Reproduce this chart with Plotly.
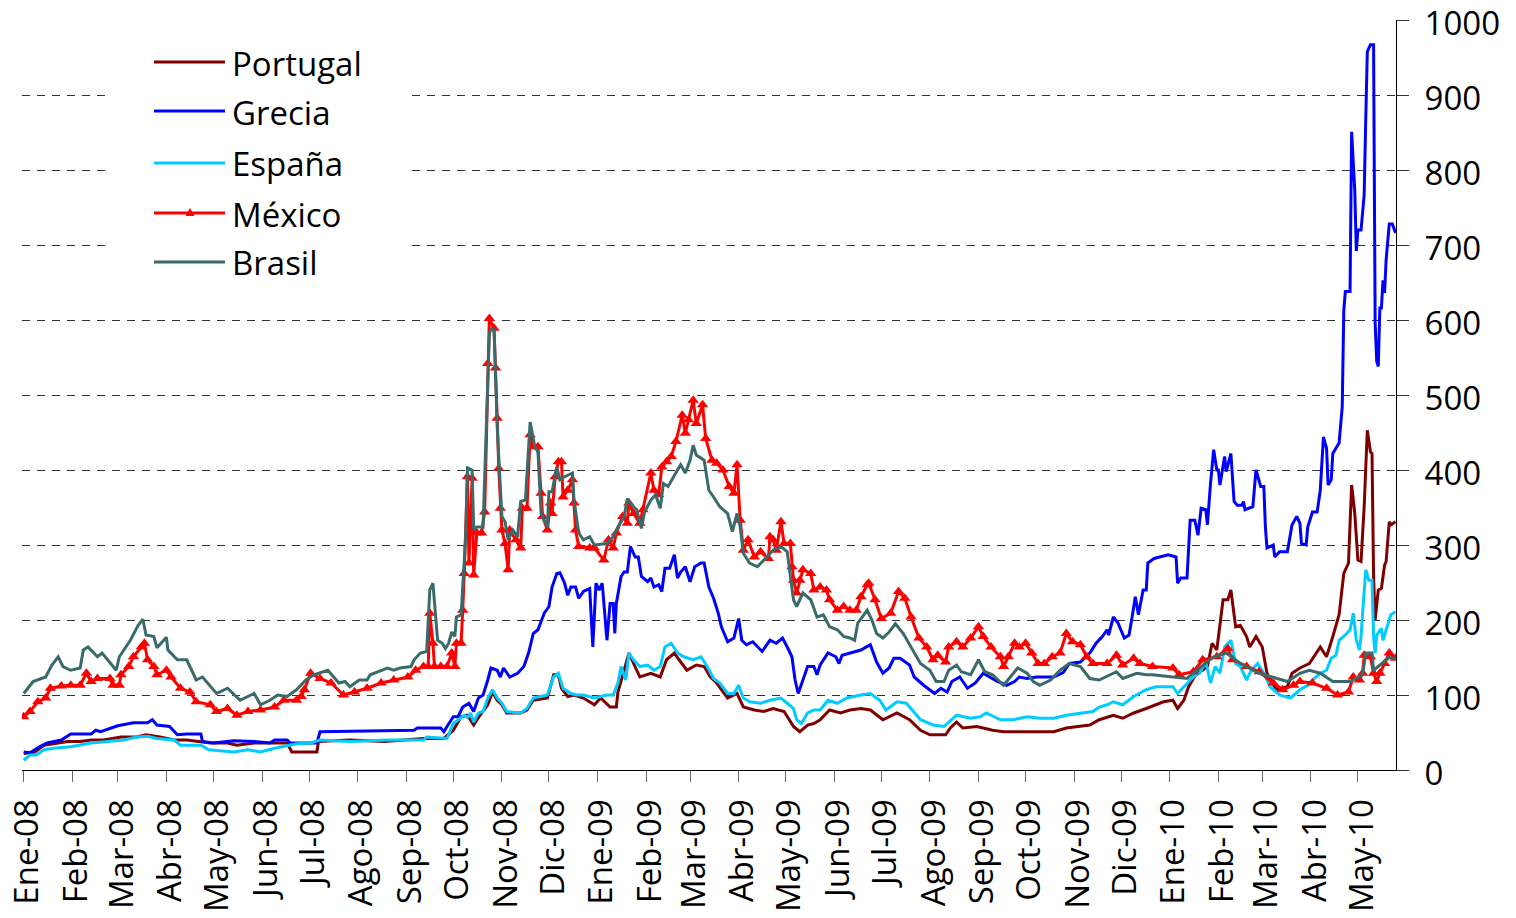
import pandas as pd
import plotly.graph_objects as go

# ---------------- data (days since 2008-01-01, spread in basis points) ----------------
portugal_days = [0, 7, 13, 28, 36, 43, 51, 62, 72, 78, 87, 96, 104, 113, 119, 130, 136, 147, 157, 168, 171, 181, 187, 188,
                 208, 230, 255, 268, 274, 279, 283, 287, 291, 296, 299, 302, 305, 308, 317, 321, 325, 334, 338, 341, 343,
                 347, 351, 357, 364, 368, 374, 378, 379, 383, 386, 389, 393, 400, 406, 410, 415, 418, 423, 429, 434, 438,
                 442, 449, 455, 459, 466, 472, 478, 485, 491, 495, 500, 504, 508, 514, 521, 527, 534, 540, 548, 557, 565,
                 572, 578, 588, 591, 595, 599, 608, 618, 625, 644, 657, 665, 680, 686, 695, 701, 708, 716, 727, 733, 736,
                 740, 743, 748, 752, 755, 758, 761, 765, 768, 770, 773, 776, 780, 782, 786, 790, 793, 799, 806, 809, 814,
                 820, 827, 831, 835, 837, 839, 842, 845, 847, 849, 851, 853, 855, 857, 859, 860, 861, 862, 864, 866, 868,
                 869, 871, 872, 875]
portugal_vals = [22, 24, 33, 38, 38, 40, 40, 44, 44, 47, 44, 40, 40, 38, 36, 36, 33, 36, 36, 36, 24, 24, 24, 38,
                 40, 38, 42, 42, 53, 71, 73, 60, 73, 87, 104, 93, 87, 76, 76, 80, 93, 96, 127, 127, 109,
                 98, 100, 96, 87, 96, 84, 84, 104, 133, 156, 142, 124, 129, 124, 147, 156, 147, 133, 140, 138, 124,
                 116, 96, 102, 84, 80, 78, 82, 78, 58, 51, 60, 62, 67, 80, 76, 80, 82, 80, 67, 76, 67,
                 53, 47, 47, 56, 64, 56, 58, 53, 51, 51, 51, 56, 60, 67, 73, 69, 76, 82, 91, 93, 82,
                 93, 111, 129, 133, 138, 169, 160, 227, 227, 240, 191, 193, 178, 164, 178, 164, 129, 107, 111, 129, 136,
                 142, 164, 151, 178, 193, 207, 262, 276, 380, 342, 280, 278, 351, 453, 424, 422, 258, 200, 240, 242, 273,
                 278, 331, 327, 331]

grecia_days = [0, 4, 10, 15, 24, 30, 43, 46, 49, 60, 70, 79, 82, 85, 93, 98, 104, 113, 114, 121, 134, 147, 157, 160,
               168, 170, 187, 189, 249, 251, 266, 268, 270, 274, 277, 280, 284, 287, 290, 293, 296, 298, 302, 304, 306,
               310, 315, 319, 322, 325, 328, 332, 335, 337, 340, 342, 345, 347, 349, 352, 354, 357, 361, 363, 365, 367,
               369, 372, 374, 376, 377, 378, 381, 383, 385, 387, 390, 392, 394, 398, 400, 402, 405, 407, 409, 412, 415,
               417, 419, 422, 425, 428, 432, 434, 437, 440, 443, 445, 449, 453, 456, 458, 461, 465, 471, 476, 480, 484,
               487, 490, 492, 494, 497, 500, 504, 506, 508, 513, 518, 520, 522, 527, 534, 540, 544, 548, 552, 555, 559,
               565, 568, 574, 578, 581, 585, 589, 592, 597, 602, 607, 612, 616, 621, 627, 632, 635, 640, 646, 657, 663,
               667, 674, 680, 684, 688, 691, 692, 695, 698, 702, 705, 707, 709, 711, 714, 716, 717, 721, 730, 735, 736,
               738, 742, 744, 747, 749, 751, 754, 755, 757, 759, 761, 762, 763, 766, 767, 770, 772, 774, 777, 778, 779,
               784, 786, 789, 791, 792, 793, 797, 798, 801, 806, 809, 812, 814, 815, 818, 819, 822, 825, 827, 829, 831,
               832, 834, 835, 837, 839, 841, 842, 843, 846, 847, 849, 850, 851, 853, 855, 856, 857, 859, 861, 862, 863,
               864, 865, 866, 867, 868, 869, 871, 873, 875]
grecia_vals = [24, 23, 31, 36, 40, 48, 48, 53, 51, 59, 63, 63, 67, 60, 58, 47, 48, 48, 38, 36, 39, 38, 36, 40,
               40, 36, 36, 51, 53, 56, 56, 51, 58, 71, 71, 84, 89, 78, 96, 100, 120, 136, 133, 124, 136,
               124, 129, 138, 156, 182, 187, 209, 218, 244, 262, 263, 249, 233, 244, 244, 229, 238, 242, 164, 249, 240,
               249, 173, 222, 222, 182, 222, 258, 264, 264, 298, 284, 284, 258, 251, 256, 244, 247, 238, 269, 269, 287,
               256, 264, 271, 251, 271, 276, 276, 244, 229, 209, 191, 171, 176, 202, 173, 167, 171, 158, 173, 169, 176,
               164, 151, 120, 102, 120, 138, 138, 127, 140, 156, 151, 142, 153, 156, 160, 167, 144, 129, 136, 149, 149,
               140, 124, 113, 107, 102, 109, 104, 118, 124, 109, 116, 129, 124, 118, 113, 118, 124, 122, 124, 124, 130,
               142, 144, 156, 169, 178, 187, 180, 204, 196, 176, 180, 204, 231, 207, 240, 240, 276, 282, 287, 284, 249,
               256, 256, 333, 333, 313, 349, 347, 327, 382, 427, 400, 400, 380, 418, 398, 422, 358, 353, 353, 358, 347,
               351, 400, 378, 378, 324, 296, 300, 284, 291, 291, 327, 338, 329, 302, 300, 324, 344, 344, 373, 444, 429,
               380, 387, 422, 429, 436, 484, 613, 638, 638, 851, 773, 692, 720, 720, 767, 867, 958, 967, 967, 596, 545,
               538, 616, 616, 653, 636, 680, 728, 728, 716]

espana_days = [0, 4, 8, 13, 19, 30, 43, 55, 64, 72, 79, 85, 96, 100, 113, 118, 134, 143, 151, 160, 168, 174, 183, 189,
               208, 232, 255, 257, 270, 274, 281, 283, 285, 287, 290, 293, 296, 299, 302, 305, 308, 317, 321, 325, 334,
               338, 341, 344, 349, 353, 357, 364, 372, 376, 379, 381, 384, 386, 389, 393, 398, 402, 406, 409, 413, 417,
               421, 427, 432, 436, 440, 444, 449, 453, 456, 459, 463, 470, 476, 483, 487, 491, 493, 496, 500, 504, 508,
               513, 519, 525, 534, 540, 546, 550, 557, 563, 572, 580, 587, 590, 595, 604, 610, 614, 623, 631, 640, 648,
               657, 665, 674, 682, 686, 691, 695, 701, 708, 716, 722, 733, 736, 742, 746, 750, 754, 757, 760, 763, 766,
               770, 773, 776, 780, 783, 787, 791, 795, 801, 808, 814, 819, 822, 827, 831, 834, 837, 839, 843, 846, 848,
               850, 852, 853, 854, 856, 858, 860, 861, 862, 863, 866, 867, 870, 872, 875]
espana_vals = [13, 20, 20, 27, 29, 31, 36, 38, 40, 44, 45, 42, 40, 33, 33, 27, 24, 27, 24, 29, 33, 35, 36, 40,
               38, 40, 40, 44, 42, 62, 73, 70, 76, 64, 76, 78, 96, 107, 96, 89, 78, 76, 82, 96, 100,
               124, 129, 109, 102, 100, 100, 96, 100, 100, 116, 138, 120, 156, 147, 138, 140, 133, 138, 164, 169, 156,
               151, 147, 151, 138, 122, 116, 102, 102, 113, 96, 91, 89, 93, 96, 89, 82, 67, 62, 76, 80, 80,
               93, 89, 96, 100, 102, 93, 80, 91, 89, 67, 60, 58, 64, 73, 69, 71, 76, 67, 67, 71, 69,
               69, 73, 76, 78, 84, 87, 91, 87, 98, 107, 111, 111, 102, 116, 124, 129, 144, 116, 138, 129, 164,
               173, 142, 138, 120, 133, 142, 129, 111, 100, 96, 107, 113, 120, 129, 133, 149, 153, 173, 180, 187, 209,
               173, 160, 178, 209, 267, 253, 253, 178, 156, 180, 189, 173, 193, 207, 211]

mexico_days = [0, 4, 9, 14, 17, 24, 30, 36, 40, 43, 47, 55, 57, 61, 62, 67, 70, 75, 77, 79, 83, 85, 91, 94,
               100, 106, 110, 119, 123, 130, 136, 143, 151, 160, 166, 174, 177, 179, 183, 189, 196, 204, 211, 219, 228,
               236, 245, 250, 255, 258, 259, 261, 262, 266, 270, 273, 275, 276, 279, 280, 281, 283, 284, 286, 287, 289,
               292, 294, 296, 297, 300, 301, 302, 303, 304, 305, 307, 309, 310, 314, 317, 318, 321, 323, 325, 328, 330,
               331, 334, 336, 337, 339, 341, 343, 344, 347, 350, 351, 352, 354, 361, 364, 370, 373, 376, 378, 382, 385,
               386, 389, 393, 395, 400, 402, 405, 407, 410, 413, 416, 420, 422, 424, 427, 429, 433, 435, 439, 442, 446,
               450, 453, 455, 457, 459, 462, 466, 470, 475, 476, 478, 480, 483, 485, 489, 490, 491, 493, 495, 497, 502,
               504, 508, 512, 514, 519, 523, 527, 531, 534, 538, 539, 543, 547, 553, 558, 562, 566, 571, 576, 580, 583,
               588, 590, 595, 599, 604, 609, 612, 617, 623, 625, 628, 632, 635, 639, 643, 647, 651, 656, 661, 665, 669,
               674, 678, 682, 691, 697, 701, 708, 712, 720, 733, 737, 746, 752, 761, 768, 771, 780, 788, 797, 803, 810,
               814, 822, 831, 838, 845, 848, 852, 854, 855, 859, 861, 863, 865, 868, 871, 875]
mexico_vals = [71, 78, 91, 96, 109, 112, 113, 113, 129, 118, 122, 122, 113, 113, 127, 138, 151, 164, 169, 147, 138, 127, 133, 124,
               109, 104, 91, 87, 78, 82, 73, 78, 80, 84, 93, 93, 98, 107, 129, 122, 116, 100, 104, 109, 116,
               120, 124, 133, 138, 138, 209, 169, 138, 138, 138, 156, 138, 169, 169, 213, 262, 391, 276, 389, 260, 316,
               316, 344, 542, 602, 589, 536, 469, 402, 349, 320, 302, 267, 320, 307, 296, 349, 349, 447, 431, 431, 369,
               338, 320, 356, 342, 391, 411, 411, 364, 373, 387, 356, 320, 298, 296, 296, 280, 307, 296, 316, 338, 329,
               356, 342, 329, 347, 396, 373, 367, 404, 411, 418, 438, 473, 449, 467, 493, 462, 487, 442, 413, 409, 400,
               378, 369, 407, 333, 293, 307, 284, 291, 282, 311, 307, 293, 331, 302, 302, 271, 253, 236, 253, 267, 262,
               240, 244, 240, 227, 213, 218, 213, 213, 231, 247, 249, 227, 202, 209, 238, 229, 204, 176, 164, 147, 153,
               144, 164, 171, 164, 176, 191, 178, 164, 151, 138, 151, 169, 164, 169, 156, 142, 142, 151, 156, 182, 171,
               167, 151, 142, 142, 153, 140, 149, 142, 138, 136, 127, 131, 147, 151, 162, 147, 138, 131, 116, 107, 113,
               118, 116, 109, 100, 104, 124, 120, 129, 153, 151, 129, 118, 129, 142, 156, 149]

brasil_days = [0, 6, 14, 18, 22, 25, 30, 36, 38, 41, 47, 50, 59, 61, 68, 73, 76, 78, 83, 85, 91, 92, 98, 104,
               110, 114, 123, 130, 138, 147, 151, 157, 162, 168, 174, 180, 185, 194, 201, 205, 208, 214, 219, 221, 232,
               236, 240, 247, 249, 253, 257, 259, 261, 263, 264, 267, 269, 271, 273, 275, 276, 279, 281, 282, 283, 286,
               287, 289, 293, 296, 297, 298, 300, 302, 304, 305, 307, 309, 312, 315, 317, 320, 323, 326, 328, 330, 334,
               335, 337, 340, 342, 345, 350, 351, 354, 357, 361, 364, 372, 376, 379, 383, 385, 388, 391, 394, 396, 400,
               403, 406, 408, 411, 417, 419, 422, 425, 427, 429, 434, 437, 440, 444, 449, 452, 455, 457, 459, 463, 468,
               474, 478, 483, 487, 491, 493, 497, 502, 506, 510, 514, 519, 523, 527, 530, 532, 538, 541, 544, 548, 552,
               556, 561, 567, 572, 578, 582, 587, 590, 595, 598, 604, 609, 613, 618, 625, 631, 634, 640, 644, 648, 655,
               661, 667, 674, 680, 686, 697, 701, 710, 716, 720, 733, 742, 750, 759, 767, 776, 788, 797, 806, 814, 820,
               827, 835, 846, 854, 856, 860, 861, 865, 871, 875]
brasil_vals = [102, 118, 124, 140, 151, 138, 133, 136, 160, 164, 151, 156, 133, 151, 173, 193, 201, 180, 178, 163, 177, 160, 147, 147,
               120, 124, 102, 109, 93, 102, 87, 93, 100, 98, 107, 120, 127, 133, 116, 118, 111, 120, 120, 127, 136,
               133, 136, 138, 147, 156, 158, 240, 249, 200, 173, 169, 162, 169, 184, 178, 204, 207, 289, 316, 403, 400,
               320, 324, 324, 538, 582, 587, 587, 458, 369, 338, 331, 307, 320, 311, 358, 360, 464, 431, 424, 342, 324,
               371, 371, 404, 387, 391, 396, 360, 316, 307, 311, 300, 302, 311, 324, 338, 362, 353, 347, 322, 344, 360,
               367, 349, 382, 378, 400, 407, 396, 413, 433, 420, 413, 373, 364, 351, 342, 318, 342, 324, 289, 276, 271,
               284, 293, 298, 291, 227, 218, 236, 227, 204, 207, 191, 187, 178, 176, 173, 196, 213, 200, 182, 176, 184,
               195, 182, 160, 142, 133, 118, 118, 133, 140, 131, 127, 147, 131, 127, 113, 129, 136, 129, 118, 113, 120,
               133, 142, 138, 122, 120, 131, 122, 129, 127, 127, 124, 122, 136, 151, 156, 142, 129, 124, 118, 129, 133,
               129, 118, 118, 127, 156, 156, 133, 140, 150, 148]

series_names = ["Portugal", "Grecia", "España", "México", "Brasil"]
series_colors = ["#7F0000", "#0000FF", "#00CCFF", "#FF0000", "#3A6B6B"]

tick_labels = ["Ene-08", "Feb-08", "Mar-08", "Abr-08", "May-08", "Jun-08", "Jul-08", "Ago-08", "Sep-08", "Oct-08",
               "Nov-08", "Dic-08", "Ene-09", "Feb-09", "Mar-09", "Abr-09", "May-09", "Jun-09", "Jul-09", "Ago-09",
               "Sep-09", "Oct-09", "Nov-09", "Dic-09", "Ene-10", "Feb-10", "Mar-10", "Abr-10", "May-10"]
y_ticks = [0, 100, 200, 300, 400, 500, 600, 700, 800, 900, 1000]

# ---------------- build ----------------
base = pd.Timestamp("2008-01-01")


def to_dates(days):
    return base + pd.to_timedelta(days, unit="D")


tick_dates = pd.date_range("2008-01-01", periods=len(tick_labels), freq="MS")

series = [
    (portugal_days, portugal_vals),
    (grecia_days, grecia_vals),
    (espana_days, espana_vals),
    (mexico_days, mexico_vals),
    (brasil_days, brasil_vals),
]

LW = 3

fig = go.Figure()
for (d, v), name, col in zip(series, series_names, series_colors):
    is_mx = name == "México"
    fig.add_trace(go.Scatter(
        x=to_dates(d), y=v, name=name,
        mode="lines+markers" if is_mx else "lines",
        line=dict(color=col, width=LW),
        marker=dict(symbol="triangle-up", size=10, color=col, line=dict(width=0)) if is_mx else None,
        showlegend=False,
        hoverinfo="skip",
    ))

x_start = base + pd.Timedelta(days=-1.1)
x_end = base + pd.Timedelta(days=875.3)

FONT = "'Open Sans', Lato, sans-serif"
FS = 33

# the page body keeps an 8px default margin, so the figure is drawn 8px in from the window corner
FIG_W, FIG_H = 1500, 910

fig.update_layout(
    width=FIG_W, height=FIG_H,
    margin=dict(l=14, r=112, t=12, b=148, autoexpand=False),
    plot_bgcolor="white", paper_bgcolor="white",
    font=dict(family=FONT, size=FS, color="black"),
    showlegend=False,
    xaxis=dict(
        type="date",
        range=[x_start, x_end],
        tickmode="array", tickvals=tick_dates, ticktext=tick_labels,
        tickangle=-90,
        ticks="outside", ticklen=11, tickcolor="#666", tickwidth=1,
        showline=True, linecolor="black", linewidth=1,
        showgrid=False, zeroline=False, automargin=False,
        tickfont=dict(family=FONT, size=FS, color="black"),
        ticklabelstandoff=4, ticklabelshift=4, ticklabeloverflow="allow",
    ),
    yaxis=dict(
        side="right",
        range=[0, 1000.01],
        tickmode="array", tickvals=y_ticks,
        ticks="outside", ticklen=12, tickcolor="#333", tickwidth=1,
        showline=True, linecolor="black", linewidth=1,
        showgrid=True, gridcolor="#333", gridwidth=1, griddash="8px,7px",
        zeroline=False, automargin=False,
        tickfont=dict(family=FONT, size=FS, color="black"),
        ticklabelstandoff=9, ticklabelshift=3, ticklabeloverflow="allow",
    ),
)

# ---------------- manual legend (white box, long line samples) ----------------
# helpers take positions measured on the 1516x918 page and turn them into paper fractions
W, H = 1374.0, 750.0
L, T = 22.0, 20.0


def px_x(px):
    return (px - L) / W


def px_y(py):
    return (T + H - py) / H


shapes = [dict(type="rect", xref="paper", yref="paper",
               x0=px_x(107), x1=px_x(408), y0=px_y(290), y1=px_y(30),
               fillcolor="white", line=dict(width=0), layer="above")]
annotations = []
entry_y = [62, 111, 163, 213, 262]
for name, col, ey in zip(series_names, series_colors, entry_y):
    shapes.append(dict(type="line", xref="paper", yref="paper",
                       x0=px_x(154), x1=px_x(225), y0=px_y(ey), y1=px_y(ey),
                       line=dict(color=col, width=LW), layer="above"))
    annotations.append(dict(xref="paper", yref="paper", x=px_x(230), y=px_y(ey + 1),
                            text=name, showarrow=False, xanchor="left", yanchor="middle",
                            font=dict(family=FONT, size=FS, color="black")))
    if name == "México":
        cx, cy = 190, ey
        path = "M {:.5f},{:.5f} L {:.5f},{:.5f} L {:.5f},{:.5f} Z".format(
            px_x(cx - 4.5), px_y(cy + 3), px_x(cx + 4.5), px_y(cy + 3), px_x(cx), px_y(cy - 5))
        shapes.append(dict(type="path", xref="paper", yref="paper", path=path,
                           fillcolor=col, line=dict(width=0), layer="above"))

fig.update_layout(shapes=shapes, annotations=annotations)

fig.write_html("out.html")
